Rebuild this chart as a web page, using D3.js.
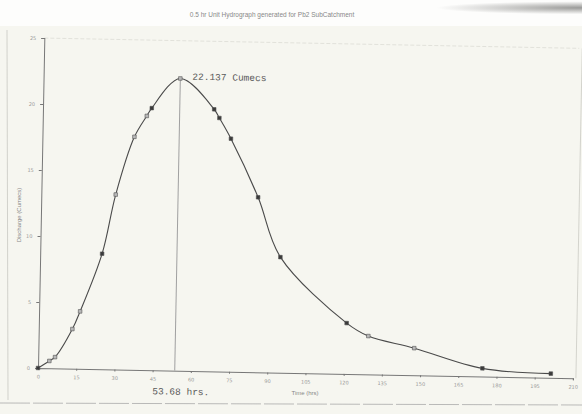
<!DOCTYPE html>
<html>
<head>
<meta charset="utf-8">
<script src="https://cdn.jsdelivr.net/npm/d3@7"></script>
<style>
    body { margin: 0; background: #f6f6f0; }
    #vis { width: 582px; height: 414px; }
    .axis path, .axis line { stroke: #777; }
    .axis text { fill: #999; font-family: 'DejaVu Sans', sans-serif; font-size: 5px; }
</style>
</head>
<body>
<div id="vis"></div>
<script>
// values
var time_hrs = [0, 4.4, 6.6, 13.2, 16.1, 24.3, 29.2, 36.1, 40.8, 42.7, 53.68, 67.2, 69.3, 74.0, 85.1, 94.3, 120.8, 129.4, 147.5, 174.4, 201.3];
var discharge = [0, 0.55, 0.85, 3.0, 4.35, 8.75, 13.25, 17.65, 19.25, 19.85, 22.137, 19.85, 19.2, 17.65, 13.25, 8.75, 3.85, 2.9, 2.05, 0.62, 0.32];
var filled = [1, 0, 0, 0, 0, 1, 0, 0, 0, 1, 0, 1, 1, 1, 1, 1, 1, 0, 0, 1, 1];
var x_ticks = [0, 15, 30, 45, 60, 75, 90, 105, 120, 135, 150, 165, 180, 195, 210];
var y_ticks = [0, 5, 10, 15, 20, 25];
var peak_time = 53.68;
var peak_flow = 22.137;

var width = 535;
var height = 330;

var svg = d3.select('#vis')
    .append('svg')
    .attr('width', 582)
    .attr('height', 414);

// scanner shading in the top right corner
var shade = svg.append('defs')
    .append('radialGradient')
    .attr('id', 'shade')
    .attr('cx', '1').attr('cy', '0.3').attr('r', '0.25');
shade.append('stop').attr('offset', '0').attr('stop-color', '#9a9a98');
shade.append('stop').attr('offset', '1').attr('stop-color', '#fdfdfc');

// paper frame left by the scanner
svg.append('rect')
    .attr('x', 0).attr('y', 0)
    .attr('width', 582).attr('height', 26)
    .attr('fill', 'url(#shade)');
svg.append('line')
    .attr('x1', 7).attr('y1', 30).attr('x2', 8).attr('y2', 400)
    .attr('stroke', '#c8c8c2').attr('stroke-width', 0.8);
svg.append('line')
    .attr('x1', 0).attr('y1', 403).attr('x2', 582).attr('y2', 405)
    .attr('stroke', '#aaa').attr('stroke-width', 0.8)
    .attr('stroke-dasharray', '30,3');

svg.append('text')
    .attr('x', 272)
    .attr('y', 17)
    .attr('text-anchor', 'middle')
    .attr('font-family', 'Liberation Sans, sans-serif')
    .attr('font-size', 6.5)
    .attr('fill', '#888')
    .text('0.5 hr Unit Hydrograph generated for Pb2  SubCatchment');

var g = svg.append('g')
    .attr('transform', 'translate(38,368) rotate(1.1)');

var x_scale = d3.scaleLinear()
    .domain([0, 210])
    .range([0, width]);

var y_scale = d3.scaleLinear()
    .domain([0, 25])
    .range([0, -height]);

// faint top and right border
g.append('line')
    .attr('x1', 0).attr('y1', y_scale(25))
    .attr('x2', width).attr('y2', y_scale(25))
    .attr('stroke', '#d8d8d2').attr('stroke-width', 0.7)
    .attr('stroke-dasharray', '4,2');
g.append('line')
    .attr('x1', width + 3).attr('y1', y_scale(25))
    .attr('x2', width + 3).attr('y2', 0)
    .attr('stroke', '#c4c4be').attr('stroke-width', 0.7);

var x_axis = d3.axisBottom(x_scale)
    .tickValues(x_ticks)
    .tickSize(2)
    .tickPadding(5);

var y_axis = d3.axisLeft(y_scale)
    .tickValues(y_ticks)
    .tickSize(3)
    .tickPadding(5);

g.append('g')
    .attr('class', 'x axis')
    .call(x_axis)
    .select('.domain').attr('stroke', '#888');

g.append('g')
    .attr('class', 'y axis')
    .call(y_axis)
    .select('.domain').attr('stroke', '#666');

g.selectAll('.y.axis text').attr('font-size', 6.5);

// axis titles
svg.append('text')
    .attr('transform', 'translate(21,215) rotate(-90)')
    .attr('text-anchor', 'middle')
    .attr('font-family', 'Liberation Sans, sans-serif')
    .attr('font-size', 6)
    .attr('fill', '#888')
    .text('Discharge (Cumecs)');

svg.append('text')
    .attr('x', 305)
    .attr('y', 395)
    .attr('text-anchor', 'middle')
    .attr('font-family', 'Liberation Sans, sans-serif')
    .attr('font-size', 6)
    .attr('fill', '#888')
    .text('Time (hrs)');

// peak marker line
g.append('line')
    .attr('x1', x_scale(peak_time)).attr('y1', y_scale(peak_flow))
    .attr('x2', x_scale(peak_time)).attr('y2', y_scale(0))
    .attr('stroke', '#a0a0a0').attr('stroke-width', 1);

var points = time_hrs.map(function(t, i) {
    return { t: t, q: discharge[i], f: filled[i] };
});

var line = d3.line()
    .x(function(d) { return x_scale(d.t); })
    .y(function(d) { return y_scale(d.q); })
    .curve(d3.curveCatmullRom.alpha(0.5));

g.append('path')
    .datum(points)
    .attr('d', line)
    .attr('fill', 'none')
    .attr('stroke', '#4a4a4a')
    .attr('stroke-width', 1.1);

g.selectAll('.pt')
    .data(points)
    .enter()
    .append('rect')
    .attr('class', 'pt')
    .attr('x', function(d) { return x_scale(d.t) - 1.8; })
    .attr('y', function(d) { return y_scale(d.q) - 1.8; })
    .attr('width', 3.6)
    .attr('height', 3.6)
    .attr('fill', function(d) { return d.f ? '#3a3a3a' : '#b8b8b8'; })
    .attr('stroke', '#555')
    .attr('stroke-width', 0.6);

g.append('text')
    .attr('x', x_scale(peak_time) + 12)
    .attr('y', y_scale(peak_flow) + 1)
    .attr('font-family', 'Liberation Mono, monospace')
    .attr('font-size', 9.5)
    .attr('fill', '#5a5a5a')
    .text(peak_flow + ' Cumecs');

g.append('text')
    .attr('x', x_scale(peak_time) - 22)
    .attr('y', 24)
    .attr('font-family', 'Liberation Mono, monospace')
    .attr('font-size', 9.5)
    .attr('fill', '#5a5a5a')
    .text(peak_time + ' hrs.');
</script>
</body>
</html>
